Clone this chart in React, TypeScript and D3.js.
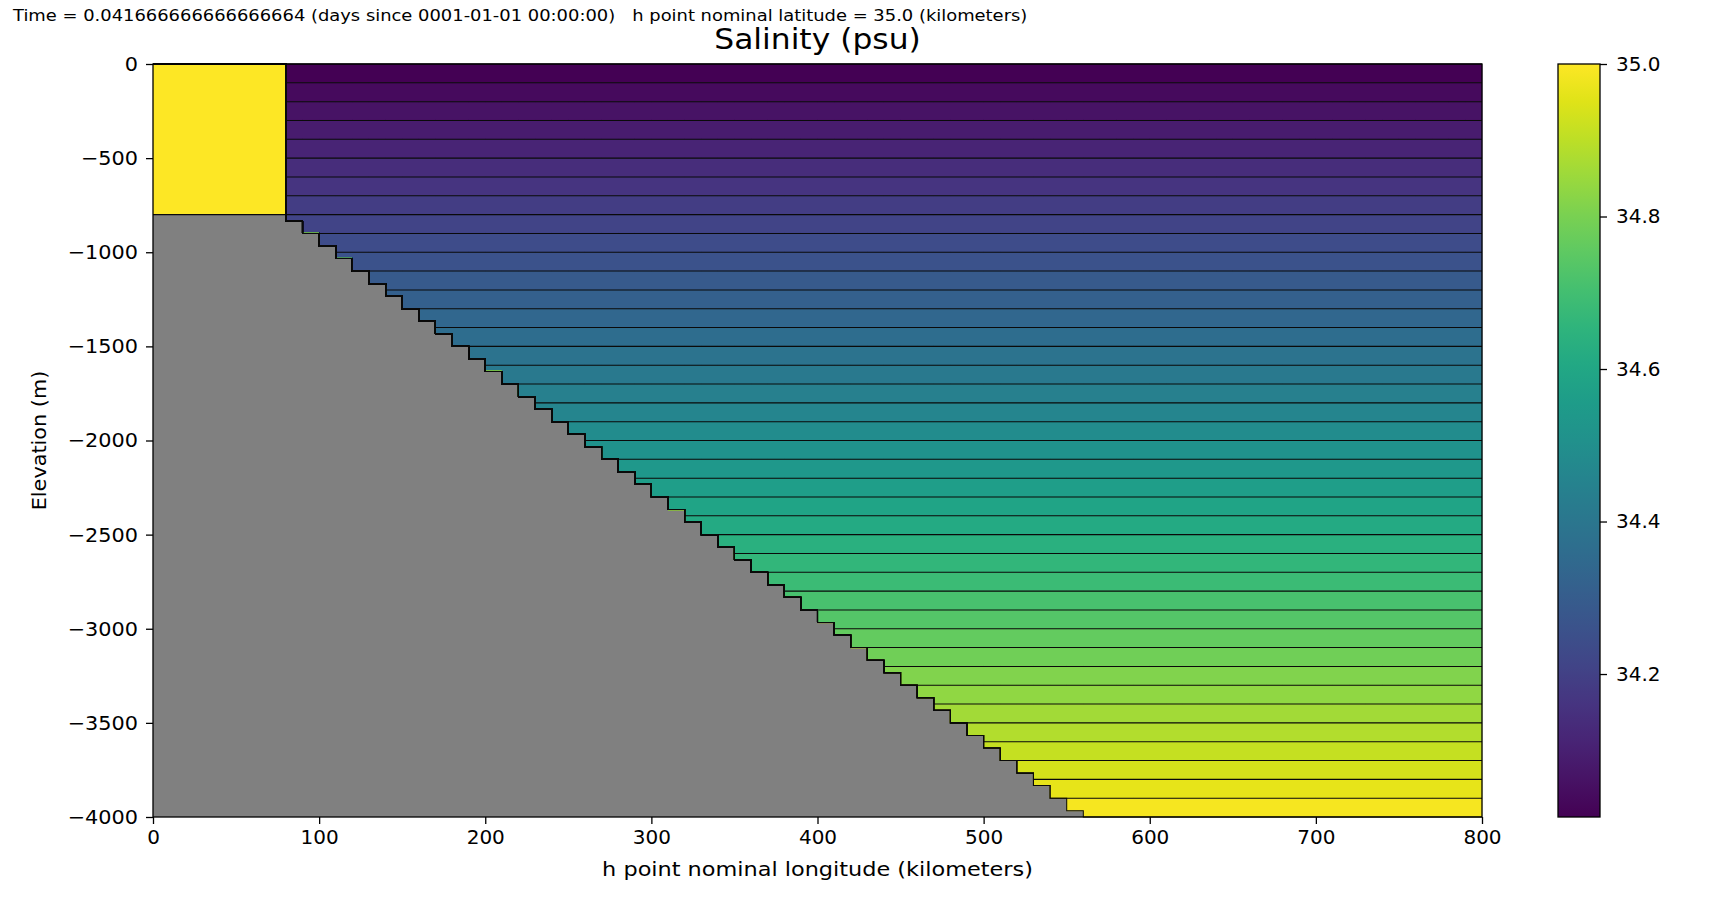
import React, { useRef, useEffect } from 'react';
import * as d3 from 'd3';

// bottom depth (m) of every 10 km column, from 0 to 800 km
const columnDepth = [
  800, 800, 800, 800, 800, 800, 800, 800,
  833, 900, 967, 1033, 1100, 1167, 1233, 1300, 1367, 1433,
  1500, 1567, 1633, 1700, 1767, 1833, 1900, 1967, 2033, 2100,
  2167, 2233, 2300, 2367, 2433, 2500, 2567, 2633, 2700, 2767,
  2833, 2900, 2967, 3033, 3100, 3167, 3233, 3300, 3367, 3433,
  3500, 3567, 3633, 3700, 3767, 3833, 3900, 3967,
  4000, 4000, 4000, 4000, 4000, 4000, 4000, 4000, 4000, 4000, 4000, 4000,
  4000, 4000, 4000, 4000, 4000, 4000, 4000, 4000, 4000, 4000, 4000, 4000,
];
const columnWidthKm = 10;

// flat layer interfaces (m) before collapsing onto the bottom
const interfaceDepth = [
  0, 100, 200, 300, 400, 500, 600, 700, 800, 900,
  1000, 1100, 1200, 1300, 1400, 1500, 1600, 1700, 1800, 1900,
  2000, 2100, 2200, 2300, 2400, 2500, 2600, 2700, 2800, 2900,
  3000, 3100, 3200, 3300, 3400, 3500, 3600, 3700, 3800, 3900, 4000,
];

// salinity (psu) of each layer, top to bottom
const layerSalinity = [
  34.0125, 34.0375, 34.0625, 34.0875, 34.1125, 34.1375, 34.1625, 34.1875,
  34.2125, 34.2375, 34.2625, 34.2875, 34.3125, 34.3375, 34.3625, 34.3875,
  34.4125, 34.4375, 34.4625, 34.4875, 34.5125, 34.5375, 34.5625, 34.5875,
  34.6125, 34.6375, 34.6625, 34.6875, 34.7125, 34.7375, 34.7625, 34.7875,
  34.8125, 34.8375, 34.8625, 34.8875, 34.9125, 34.9375, 34.9625, 34.9875,
];

// dense water filling the embayment columns
const denseColumns = 8;
const denseSalinity = 35.0;

const xTicks = [0, 100, 200, 300, 400, 500, 600, 700, 800];
const yTicks = [0, -500, -1000, -1500, -2000, -2500, -3000, -3500, -4000];
const cbarTicks = [34.2, 34.4, 34.6, 34.8, 35.0];

const FONT = 'DejaVu Sans, sans-serif';
const fmtMinus = (v: number) => (v < 0 ? '\u2212' + Math.abs(v) : String(v));

const App = () => {
  const svgRef = useRef<SVGSVGElement>(null);

  useEffect(() => {
    const width = 1711;
    const height = 900;
    const plot = { left: 153, right: 1482, top: 64, bottom: 817 };
    const cbar = { left: 1558, right: 1600 };
    const n = columnDepth.length;
    const sx = 1.12; // the reference text is a bit wide

    const svg = d3.select(svgRef.current)
      .attr('width', width)
      .attr('height', height)
      .style('background', '#ffffff');
    svg.selectAll('*').remove();

    const x = d3.scaleLinear().domain([0, n * columnWidthKm]).range([plot.left, plot.right]);
    const y = d3.scaleLinear().domain([-4000, 0]).range([plot.bottom, plot.top]);
    const sMin = d3.min(layerSalinity) as number;
    const sMax = Math.max(d3.max(layerSalinity) as number, denseSalinity);
    const color = d3.scaleSequential(d3.interpolateViridis).domain([sMin, sMax]);

    // land background
    svg.append('rect')
      .attr('x', plot.left).attr('y', plot.top)
      .attr('width', plot.right - plot.left).attr('height', plot.bottom - plot.top)
      .attr('fill', '#808080');

    // dense water block in the embayment
    svg.append('rect')
      .attr('x', x(0)).attr('y', y(0))
      .attr('width', x(denseColumns * columnWidthKm) - x(0))
      .attr('height', y(-columnDepth[0]) - y(0))
      .attr('fill', color(denseSalinity));

    // stepped points over columns [from, n)
    const stepPts = (from: number, f: (i: number) => number[]) => {
      const pts: number[][] = [];
      for (let i = from; i < n; i++) pts.push([i * columnWidthKm, ...f(i)]);
      pts.push([n * columnWidthKm, ...f(n - 1)]);
      return pts;
    };

    // layers
    const area = d3.area<number[]>()
      .x((d) => x(d[0]))
      .y0((d) => y(-d[2]))
      .y1((d) => y(-d[1]))
      .curve(d3.curveStepAfter);

    layerSalinity.forEach((s, k) => {
      const pts = stepPts(denseColumns, (i) => [
        Math.min(interfaceDepth[k], columnDepth[i]),
        Math.min(interfaceDepth[k + 1], columnDepth[i]),
      ]);
      svg.append('path')
        .attr('d', area(pts))
        .attr('fill', color(s))
        .attr('stroke', color(s))
        .attr('stroke-width', 0.5);
    });

    // interfaces
    const line = d3.line<number[]>()
      .x((d) => x(d[0]))
      .y((d) => y(-d[1]))
      .curve(d3.curveStepAfter);
    const last = interfaceDepth.length - 1;

    interfaceDepth.forEach((z, k) => {
      const pts = stepPts(0, (i) => [
        i < denseColumns ? (k < last ? 0 : columnDepth[i]) : Math.min(z, columnDepth[i]),
      ]);
      svg.append('path')
        .attr('d', line(pts))
        .attr('fill', 'none')
        .attr('stroke', '#0a0a0a')
        .attr('stroke-width', 1.05);
    });

    // axes
    const xAxis = d3.axisBottom(x).tickValues(xTicks).tickSize(7).tickPadding(6).tickFormat((d) => String(d));
    const yAxis = d3.axisLeft(y).tickValues(yTicks).tickSize(7).tickPadding(8).tickFormat((d) => fmtMinus(+d));

    const gx = svg.append('g')
      .attr('transform', `translate(0, ${plot.bottom})`)
      .call(xAxis);
    const gy = svg.append('g')
      .attr('transform', `translate(${plot.left}, 0)`)
      .call(yAxis);
    [gx, gy].forEach((g) => {
      g.select('.domain').remove();
      g.selectAll('line').attr('stroke', '#000').attr('stroke-width', 1.3);
      g.selectAll('text').attr('fill', '#000').style('font-family', FONT).style('font-size', '20px');
    });
    // y tick labels a touch wider
    gy.selectAll<SVGTextElement, unknown>('text').each(function () {
      const t = d3.select(this);
      t.attr('x', +t.attr('x') / 1.04).attr('transform', 'scale(1.04,1)');
    });

    svg.append('rect')
      .attr('x', plot.left).attr('y', plot.top)
      .attr('width', plot.right - plot.left).attr('height', plot.bottom - plot.top)
      .attr('fill', 'none').attr('stroke', '#000').attr('stroke-width', 1.3);

    // colorbar
    const cy = d3.scaleLinear().domain([sMin, sMax]).range([plot.bottom, plot.top]);
    const grad = svg.append('defs').append('linearGradient')
      .attr('id', 'cbar-grad')
      .attr('x1', 0).attr('y1', 1).attr('x2', 0).attr('y2', 0);
    d3.range(0, 1.0001, 0.05).forEach((t) => {
      grad.append('stop').attr('offset', t).attr('stop-color', d3.interpolateViridis(t));
    });
    svg.append('rect')
      .attr('x', cbar.left).attr('y', plot.top)
      .attr('width', cbar.right - cbar.left).attr('height', plot.bottom - plot.top)
      .attr('fill', 'url(#cbar-grad)')
      .attr('stroke', '#000').attr('stroke-width', 1.3);
    const cAxis = d3.axisRight(cy).tickValues(cbarTicks).tickSize(7).tickPadding(9).tickFormat(d3.format('.1f'));
    const gc = svg.append('g')
      .attr('transform', `translate(${cbar.right}, 0)`)
      .call(cAxis);
    gc.select('.domain').remove();
    gc.selectAll('line').attr('stroke', '#000').attr('stroke-width', 1.3);
    gc.selectAll('text').attr('fill', '#000').style('font-family', FONT).style('font-size', '20px');

    // labels
    svg.append('text')
      .attr('transform', `translate(13, 21) scale(${sx}, 1)`)
      .style('font-family', FONT).style('font-size', '16px')
      .style('white-space', 'pre')
      .attr('fill', '#000')
      .text('Time = 0.041666666666666664 (days since 0001-01-01 00:00:00)   h point nominal latitude = 35.0 (kilometers)');

    svg.append('text')
      .attr('transform', `translate(${(plot.left + plot.right) / 2}, 49) scale(${sx}, 1)`)
      .attr('text-anchor', 'middle')
      .style('font-family', FONT).style('font-size', '28px')
      .attr('fill', '#000')
      .text('Salinity (psu)');

    svg.append('text')
      .attr('transform', `translate(${(plot.left + plot.right) / 2}, 876) scale(${sx}, 1)`)
      .attr('text-anchor', 'middle')
      .style('font-family', FONT).style('font-size', '20px')
      .attr('fill', '#000')
      .text('h point nominal longitude (kilometers)');

    svg.append('text')
      .attr('transform', `translate(46, ${(plot.top + plot.bottom) / 2}) rotate(-90) scale(1.04, 1)`)
      .attr('text-anchor', 'middle')
      .style('font-family', FONT).style('font-size', '20px')
      .attr('fill', '#000')
      .text('Elevation (m)');
  }, []);

  return <svg ref={svgRef} style={{ position: 'absolute', left: 0, top: 0 }}></svg>;
};

export default App;
